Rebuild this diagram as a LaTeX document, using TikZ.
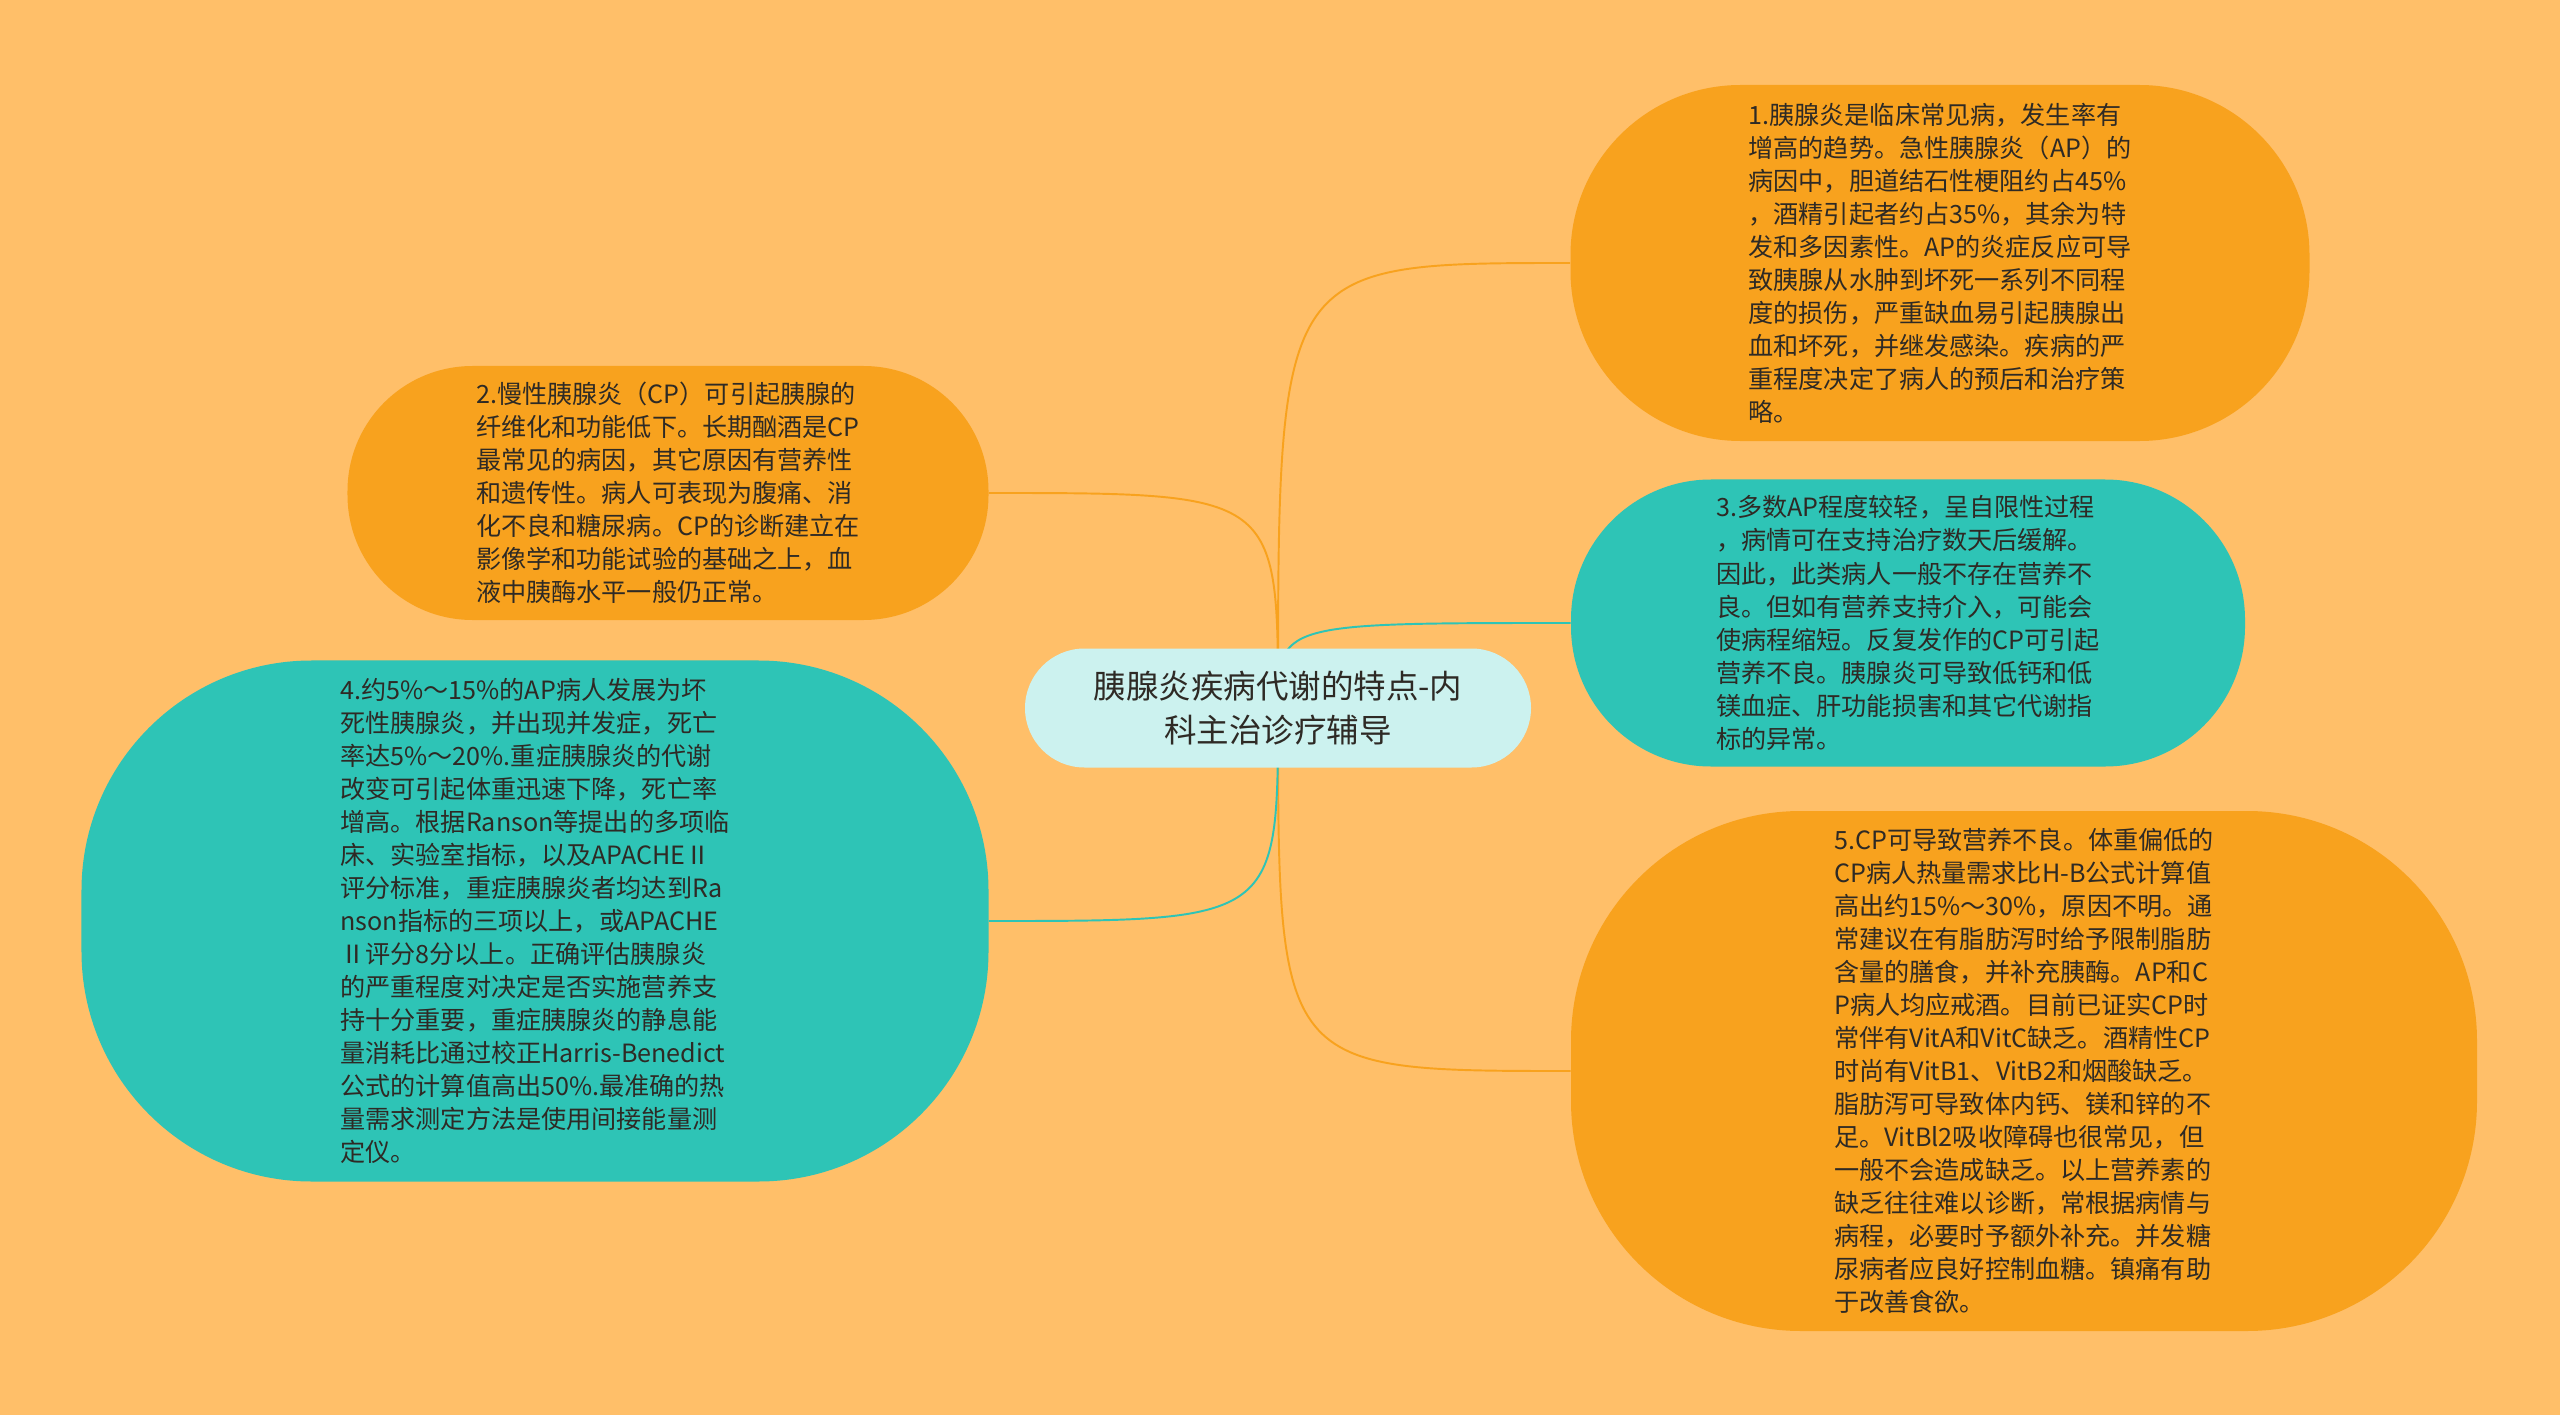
\documentclass[tikz,border=0pt]{standalone}
\usepackage{fontspec}
\setmainfont{Noto Sans CJK SC}
\usetikzlibrary{backgrounds}
\definecolor{bgorange}{HTML}{FFBF69}
\definecolor{leaforange}{HTML}{F8A21E}
\definecolor{leafteal}{HTML}{2EC4B6}
\definecolor{rootcyan}{HTML}{CCF2EF}
\definecolor{inkdark}{HTML}{2E2A25}

\begin{document}
\begin{tikzpicture}[
    x=0.2mm, y=-0.2mm,
    every node/.style={inner sep=0pt, text=inkdark},
    topic/.style={fill=rootcyan, minimum width=10.12cm, minimum height=2.38cm, rounded corners=1.19cm, align=center, font=\fontsize{18.5pt}{25pt}\selectfont},
    leaf/.style={align=left, font=\fontsize{14.3pt}{18.8pt}\selectfont},
    orangeleaf/.style={leaf, fill=leaforange},
    tealleaf/.style={leaf, fill=leafteal},
    link/.style={line width=1.1pt}
]

   \useasboundingbox (0,0) rectangle (2560,1415);

   % Topic
   \node[topic] (ctr) at (1278,708) {胰腺炎疾病代谢的特点-内\\科主治诊疗辅导};

   % Right branches
   \node[orangeleaf, minimum width=14.78cm, minimum height=7.12cm, rounded corners=3.4cm] (acute) at (1940,263)
     {1.胰腺炎是临床常见病，发生率有\\增高的趋势。急性胰腺炎（AP）的\\病因中，胆道结石性梗阻约占45\%\\，酒精引起者约占35\%，其余为特\\发和多因素性。AP的炎症反应可导\\致胰腺从水肿到坏死一系列不同程\\度的损伤，严重缺血易引起胰腺出\\血和坏死，并继发感染。疾病的严\\重程度决定了病人的预后和治疗策\\略。};
   \node[tealleaf, minimum width=13.48cm, minimum height=5.74cm, rounded corners=2.8cm] (mild) at (1908,623)
     {3.多数AP程度较轻，呈自限性过程\\，病情可在支持治疗数天后缓解。\\因此，此类病人一般不存在营养不\\良。但如有营养支持介入，可能会\\使病程缩短。反复发作的CP可引起\\营养不良。胰腺炎可导致低钙和低\\镁血症、肝功能损害和其它代谢指\\标的异常。};
   \node[orangeleaf, minimum width=18.12cm, minimum height=10.4cm, rounded corners=4.6cm] (malnut) at (2024,1071)
     {5.CP可导致营养不良。体重偏低的\\CP病人热量需求比H-B公式计算值\\高出约15\%～30\%，原因不明。通\\常建议在有脂肪泻时给予限制脂肪\\含量的膳食，并补充胰酶。AP和C\\P病人均应戒酒。目前已证实CP时\\常伴有VitA和VitC缺乏。酒精性CP\\时尚有VitB1、VitB2和烟酸缺乏。\\脂肪泻可导致体内钙、镁和锌的不\\足。VitBl2吸收障碍也很常见，但\\一般不会造成缺乏。以上营养素的\\缺乏往往难以诊断，常根据病情与\\病程，必要时予额外补充。并发糖\\尿病者应良好控制血糖。镇痛有助\\于改善食欲。};

   % Left branches
   \node[orangeleaf, minimum width=12.82cm, minimum height=5.08cm, rounded corners=2.5cm] (chronic) at (668,493)
     {2.慢性胰腺炎（CP）可引起胰腺的\\纤维化和功能低下。长期酗酒是CP\\最常见的病因，其它原因有营养性\\和遗传性。病人可表现为腹痛、消\\化不良和糖尿病。CP的诊断建立在\\影像学和功能试验的基础之上，血\\液中胰酶水平一般仍正常。};
   \node[tealleaf, minimum width=18.14cm, minimum height=10.42cm, rounded corners=4.6cm] (severe) at (535,921)
     {4.约5\%～15\%的AP病人发展为坏\\死性胰腺炎，并出现并发症，死亡\\率达5\%～20\%.重症胰腺炎的代谢\\改变可引起体重迅速下降，死亡率\\增高。根据Ranson等提出的多项临\\床、实验室指标，以及APACHEⅡ\\评分标准，重症胰腺炎者均达到Ra\\nson指标的三项以上，或APACHE\\Ⅱ评分8分以上。正确评估胰腺炎\\的严重程度对决定是否实施营养支\\持十分重要，重症胰腺炎的静息能\\量消耗比通过校正Harris-Benedict\\公式的计算值高出50\%.最准确的热\\量需求测定方法是使用间接能量测\\定仪。};

   % Links behind the bubbles
   \begin{scope}[on background layer]
     \fill[bgorange] (0,0) rectangle (2560,1415);
     \draw[link, leaforange] (ctr.center) .. controls (ctr.center |- acute.west) .. (acute.west);
     \draw[link, leafteal] (ctr.center) .. controls (ctr.center |- mild.west) .. (mild.west);
     \draw[link, leaforange] (ctr.center) .. controls (ctr.center |- malnut.west) .. (malnut.west);
     \draw[link, leaforange] (ctr.center) .. controls (ctr.center |- chronic.east) .. (chronic.east);
     \draw[link, leafteal] (ctr.center) .. controls (ctr.center |- severe.east) .. (severe.east);
   \end{scope}

\end{tikzpicture}
\end{document}
